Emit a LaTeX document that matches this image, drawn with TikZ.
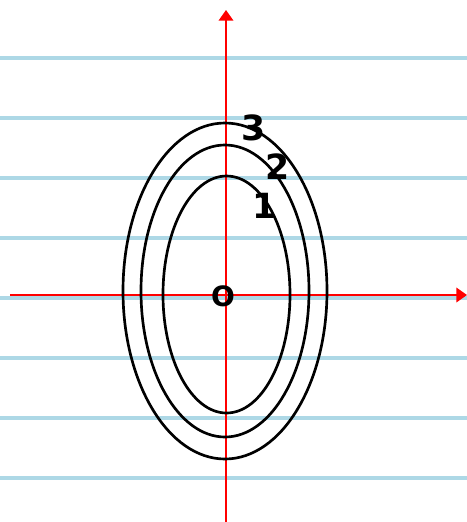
\documentclass[tikz,border=0pt]{standalone}
\usetikzlibrary{arrows.meta}
\usepackage{fontspec}
\setsansfont{DejaVu Sans}
\definecolor{ruleblue}{RGB}{173,216,230}
\tikzset{numlabel/.style={font=\sffamily\bfseries\fontsize{26}{28}\selectfont, inner sep=0pt}}
\begin{document}
\begin{tikzpicture}[x=0.75pt, y=-0.75pt, >={Triangle[width=11pt,length=8pt]}]
				\useasboundingbox (0,0) rectangle (467,522);
				% Dòng kẻ giấy
				\foreach \y in {58,118,178,238,298,358,418,478}
					\draw[ruleblue, line width=2.8pt] (0,\y) -- (467,\y);
				\coordinate (X1) at (10,295); % Đầu trục ngang
				\coordinate (X2) at (467,295);
				\coordinate (Y1) at (226,522); % Đầu trục dọc
				\coordinate (Y2) at (226,10);
				\draw[red, line width=1.2pt, ->] (X1) -- (X2);
				\draw[red, line width=1.2pt, ->] (Y1) -- (Y2);
				% Ba đường elip
				\draw[line width=2pt] (226.5,294.5) ellipse (63.5 and 118.5);
				\draw[line width=2pt] (225,291) ellipse (84 and 146);
				\draw[line width=2pt] (225,291) ellipse (102 and 168);
				\node[numlabel] (n3) at (254,128) {3};
				\node[numlabel] (n2) at (278,167) {2};
				\node[numlabel] (n1) at (265,206) {1};
				\node[numlabel, font=\sffamily\bfseries\fontsize{21}{23}\selectfont] (O) at (223,296) {O};
			\end{tikzpicture}
\end{document}
